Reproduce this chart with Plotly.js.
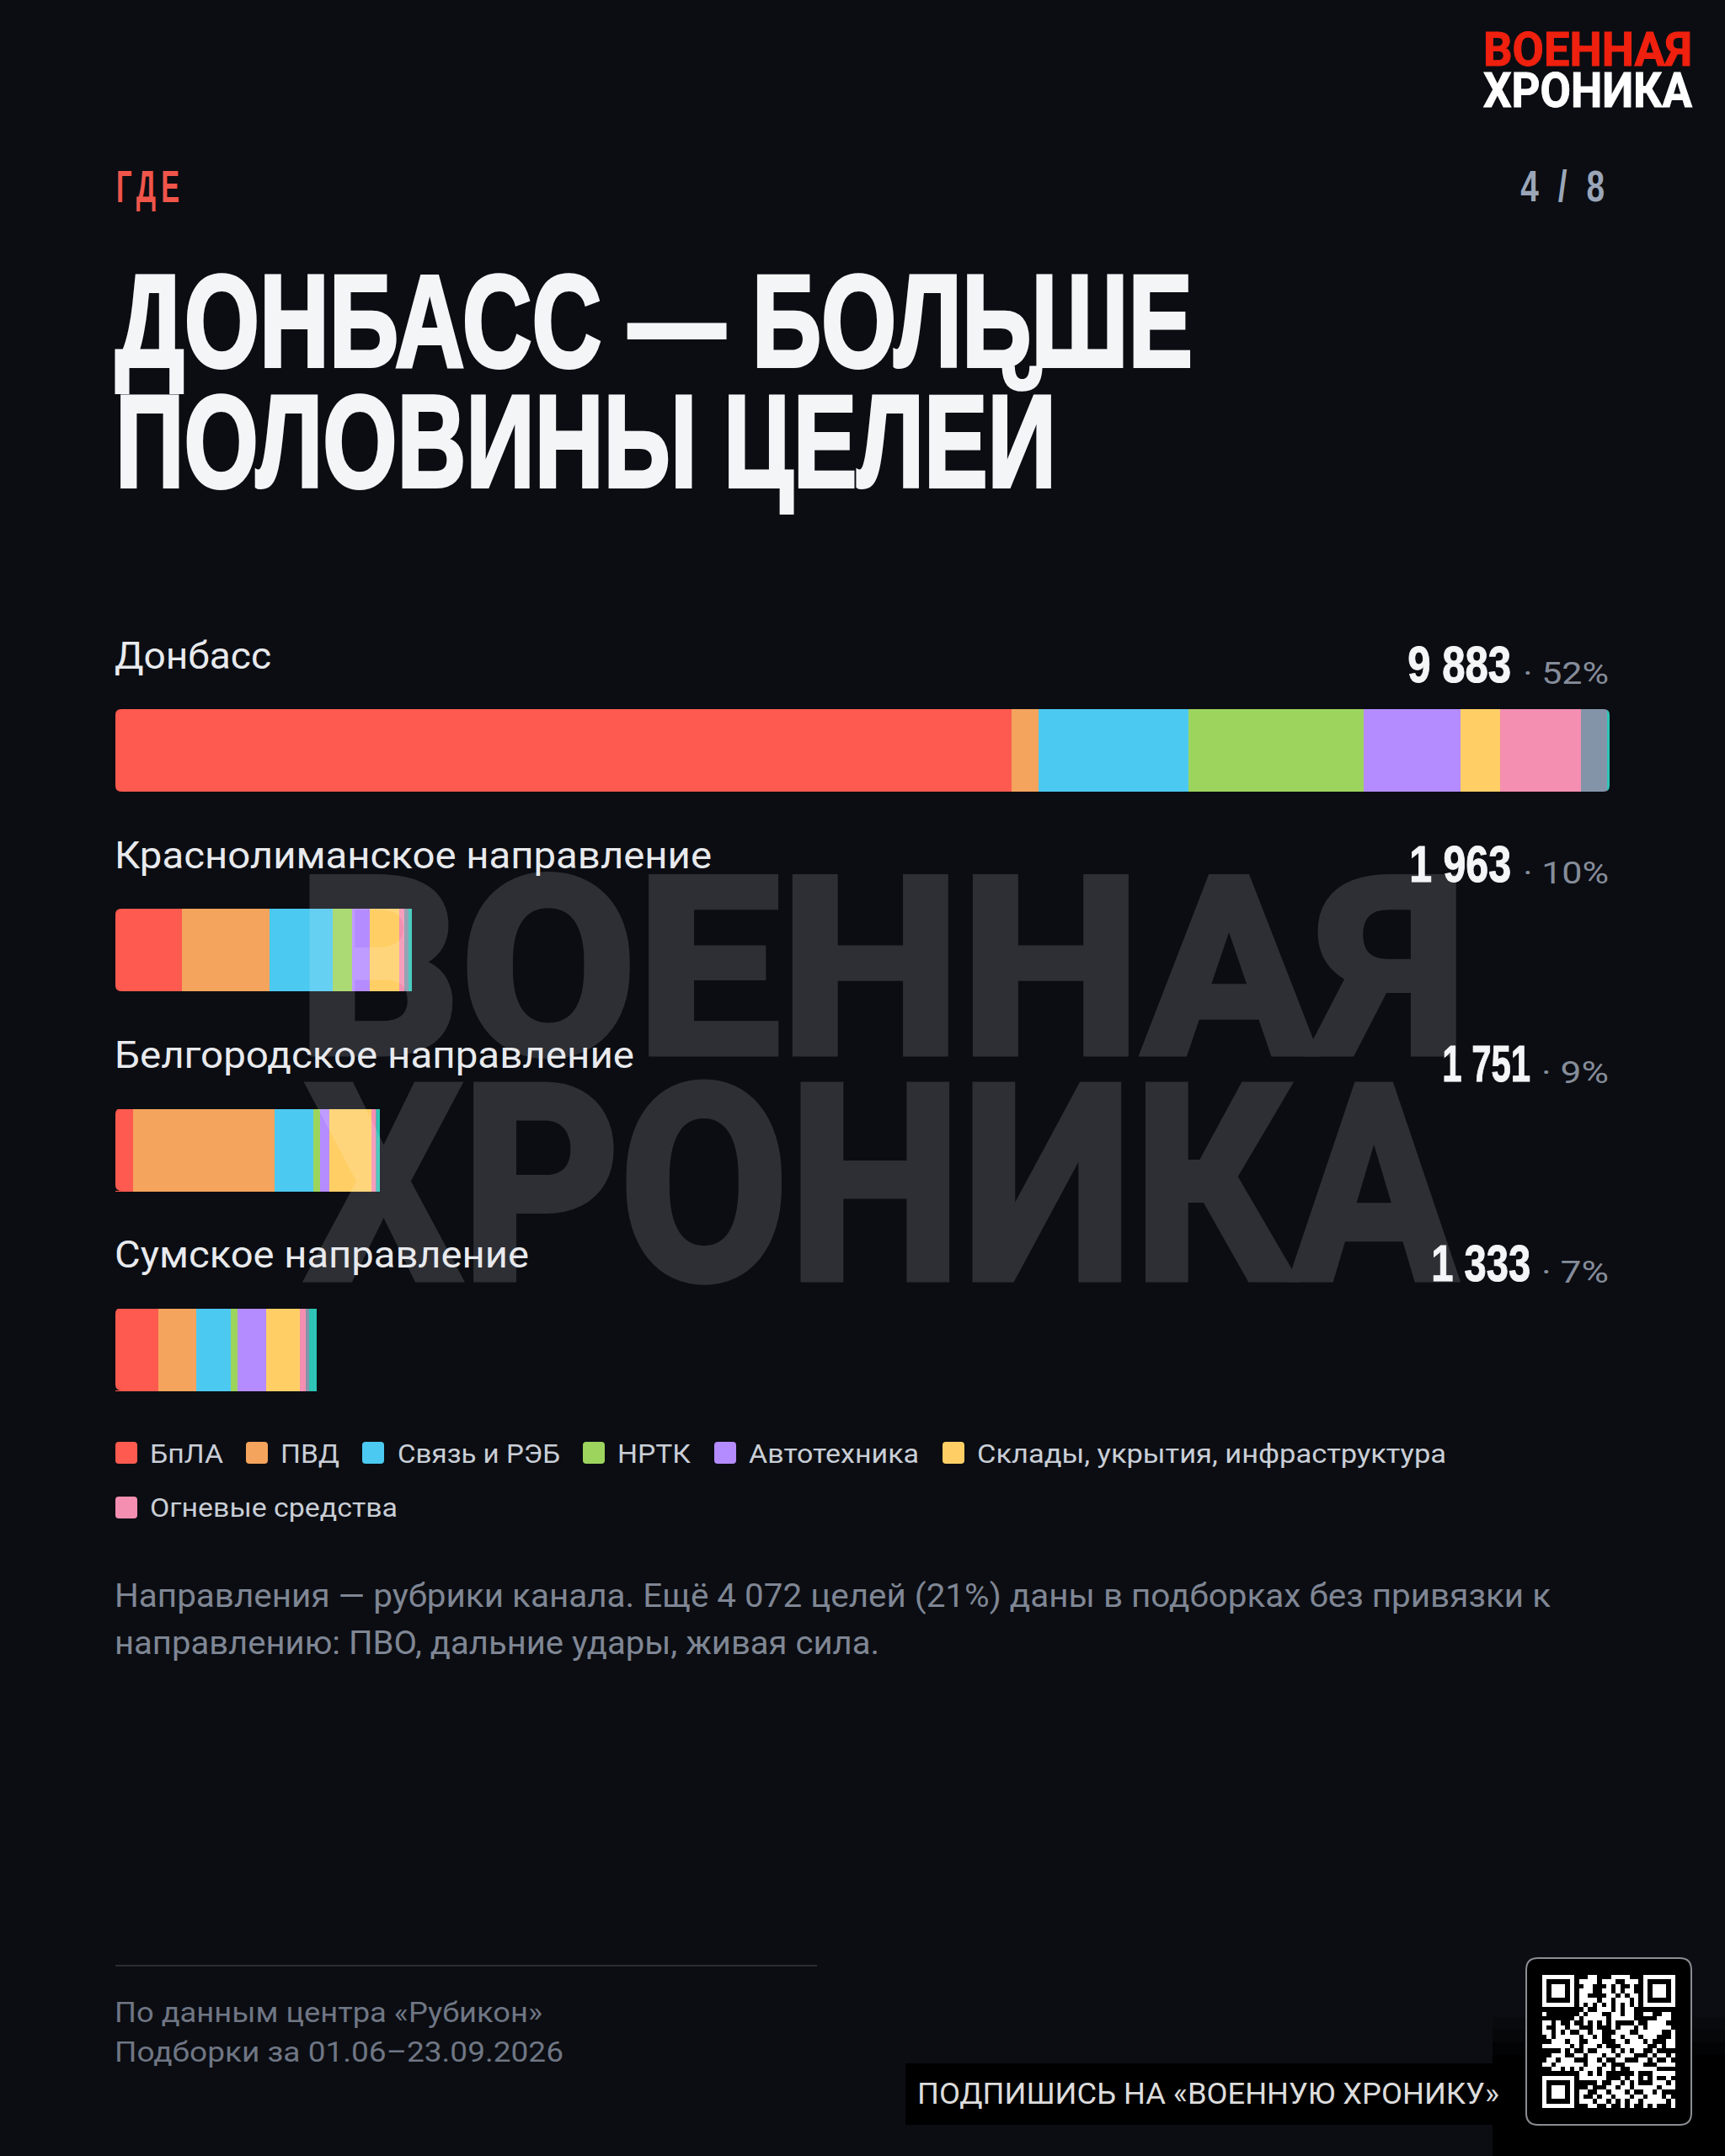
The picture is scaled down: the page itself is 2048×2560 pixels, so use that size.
<!DOCTYPE html>
<html>
<head>
<meta charset="utf-8">
<script src="https://cdn.plot.ly/plotly-3.0.1.min.js"></script>
<style>
  html, body { margin: 0; padding: 0; background: #0b0d12; }
  #chart { width: 2048px; height: 2560px; }
</style>
</head>
<body>
<div id="chart"></div>
<script>
// directions, top to bottom
const directions = ['Донбасс', 'Краснолиманское направление', 'Белгородское направление', 'Сумское направление'];
const totalLabels = ['9 883', '1 963', '1 751', '1 333'];
const shareLabels = ['52%', '10%', '9%', '7%'];

// segment values per direction
const bpla    = [5926, 442, 115, 286];
const pvd     = [179, 579, 940, 249];
const svyaz   = [994, 414, 255, 226];
const nrtk    = [1155, 128, 46, 46];
const avto    = [641, 117, 60, 188];
const sklady  = [266, 199, 275, 224];
const ogon    = [534, 33, 32, 42];
const grey    = [170, 25, 6, 19];
const teal    = [18, 26, 22, 53];

const seriesNames  = ['БпЛА', 'ПВД', 'Связь и РЭБ', 'НРТК', 'Автотехника', 'Склады, укрытия, инфраструктура', 'Огневые средства', 'Другое', 'Прочее'];
const seriesValues = [bpla, pvd, svyaz, nrtk, avto, sklady, ogon, grey, teal];
const seriesColors = ['#ff5a4f', '#f4a45c', '#4cc9f0', '#9dd45e', '#b58cff', '#ffcf66', '#f48fb1', '#8494a8', '#2ec4b6'];

// QR code
const qrRows = [
  '1111111 0 0011000111100 0 1111111',
  '1000001 0 1111011100111 0 1000001',
  '1011101 0 0110001010010 0 1011101',
  '1011101 0 1110011010110 0 1011101',
  '1011101 0 1100001101011 0 1011101',
  '1000001 0 1111011011101 0 1000001',
  '1111111 0 1010101010101 0 1111111',
  '0000000 0 0100111010110 0 0000000',
  '10000000 10111 00110 11001 10011 0',
  '0000000 10111 11011 11100 00011 10',
  '1101001 00101 01010 00010 01111 00',
  '1001101 10001 00010 11101 01111 10',
  '1101010 01101 10001 11001 11110 01',
  '0101111 10110 10011 01110 11100 01',
  '0011101 10011 10001 10111 01000 11',
  '1111110 10111 01000 11111 10010 11',
  '0000101 00100 11101 01011 00100 00',
  '0011100 11011 10110 11100 01011 01',
  '0110111 00011 01001 10001 10100 10',
  '1101111 11011 10100 01111 00011 11',
  '0011010 10111 01101 00111 11100 00',
  '0000000 01101 01000 00010 00111 11',
  '1111111 01111 11000 10110 10100 10',
  '1000001 00000 10011 01010 00111 01',
  '1011101 00010 00110 11011 11101 11',
  '1011101 01100 11011 10100 11010 00',
  '1011101 01001 01101 11011 01110 10',
  '1000001 01110 11010 10110 11111 01',
  '1111111 00011 00100 10100 10100 01'
];

const W = 2048, H = 2560;
const LEFT = 137, RIGHT = 1911, TEXT_LEFT = 135;
const px = x => x / W;
const py = y => 1 - y / H;

const NARROW = '"Liberation Sans Narrow", "Liberation Sans", sans-serif';
const BODY = 'Roboto, sans-serif';
const DESCENT = {[NARROW]: 0.212, [BODY]: 0.244};

const annotations = [];
const fits = [];

// places a text by its baseline; w squeezes it to the width seen in the picture
function label(text, x, base, size, color, family, opts) {
  const o = opts || {};
  const anchor = o.anchor || 'left';
  annotations.push({
    text: text, xref: 'paper', yref: 'paper', showarrow: false,
    x: px(x), y: py(base + DESCENT[family] * size + 1),
    xanchor: anchor, yanchor: 'bottom', align: anchor, borderpad: 0,
    opacity: o.opacity === undefined ? 1 : o.opacity,
    font: {family: family, size: size, color: color, weight: o.bold ? 700 : 400}
  });
  if (o.w) fits.push({i: annotations.length - 1, w: o.w, color: color, stroke: o.stroke, spacing: o.spacing});
}

// watermark first, it sits over the bars
label('ВОЕННАЯ', 352, 1250, 292, '#ffffff', BODY, {bold: true, w: 1388, stroke: 9, opacity: 0.14});
label('ХРОНИКА', 362, 1518, 322, '#ffffff', BODY, {bold: true, w: 1366, stroke: 9, opacity: 0.14});

// logo
label('ВОЕННАЯ', 1760, 78, 55, '#f0200f', BODY, {bold: true, w: 248, stroke: 1});
label('ХРОНИКА', 1760, 127, 58, '#ffffff', BODY, {bold: true, w: 248, stroke: 1});

// header
label('ГДЕ', 137, 240, 54, '#f0554a', NARROW, {bold: true, w: 81, spacing: 10});
label('4 / 8', 1912, 239, 51, '#9aa6b8', NARROW, {bold: true, w: 106, spacing: 8, anchor: 'right'});
label('ДОНБАСС — БОЛЬШЕ', 136, 435, 155, '#f4f5f7', NARROW, {bold: true, w: 1279, stroke: 4});
label('ПОЛОВИНЫ ЦЕЛЕЙ', 136, 578, 155, '#f4f5f7', NARROW, {bold: true, w: 1117, stroke: 4});

// direction rows
const labelWidths = [186, 709, 617, 492];
const valueRight = [1795, 1795, 1818, 1818];
const valueWidths = [123, 121, 105, 118];
const shareLeft = [1809, 1809, 1831, 1831];
directions.forEach((d, i) => {
  const base = 794 + 237 * i;
  label(d, TEXT_LEFT, base, 44, '#e8eaee', BODY, {w: labelWidths[i]});
  label(totalLabels[i], valueRight[i], base + 16, 62, '#f4f5f7', NARROW, {bold: true, anchor: 'right', w: valueWidths[i], stroke: 1});
  label('· ' + shareLabels[i], RIGHT, base + 18, 36, '#858c9a', BODY, {anchor: 'right', w: RIGHT - shareLeft[i]});
});

// legend, drawn by hand because its swatches are large and rounded
const legendSwatchX = [137, 292, 430, 692, 848, 1119, 137];
const legendTextX   = [177, 332, 471, 732, 888, 1159, 177];
const legendWidths  = [87, 70, 193, 87, 202, 557, 294];
const legendRow     = [0, 0, 0, 0, 0, 0, 1];
const shapes = [];

function rounded(x0, y0, x1, y1, r) {
  const X = v => px(v).toFixed(5), Y = v => py(v).toFixed(5);
  return `M${X(x0 + r)},${Y(y0)} L${X(x1 - r)},${Y(y0)} Q${X(x1)},${Y(y0)} ${X(x1)},${Y(y0 + r)} ` +
         `L${X(x1)},${Y(y1 - r)} Q${X(x1)},${Y(y1)} ${X(x1 - r)},${Y(y1)} L${X(x0 + r)},${Y(y1)} ` +
         `Q${X(x0)},${Y(y1)} ${X(x0)},${Y(y1 - r)} L${X(x0)},${Y(y0 + r)} Q${X(x0)},${Y(y0)} ${X(x0 + r)},${Y(y0)} Z`;
}

// black patches and frame under the QR code
function rect(x0, y0, x1, y1, fill) {
  shapes.push({type: 'rect', xref: 'paper', yref: 'paper', layer: 'below', line: {width: 0}, fillcolor: fill,
    x0: px(x0), x1: px(x1), y0: py(y0), y1: py(y1)});
}
rect(1772, 2395, W, 2410, 'rgba(0,0,0,0.2)');
rect(1772, 2410, W, 2425, 'rgba(0,0,0,0.45)');
rect(1772, 2425, W, 2440, 'rgba(0,0,0,0.75)');
rect(1772, 2440, W, H, '#000000');
rect(1075, 2450, 1772, 2523, '#000000');
shapes.push({type: 'path', xref: 'paper', yref: 'paper', layer: 'below', path: rounded(1812, 2325, 2008, 2523, 14),
  fillcolor: '#000000', line: {color: '#8a8d92', width: 2}});

// footer rule
shapes.push({type: 'line', xref: 'paper', yref: 'paper', x0: px(137), x1: px(970), y0: py(2334), y1: py(2334),
  line: {color: '#2a2d33', width: 2}});

legendSwatchX.forEach((x, i) => {
  const top = 1712 + 65 * legendRow[i];
  shapes.push({type: 'path', xref: 'paper', yref: 'paper', path: rounded(x, top, x + 26, top + 26, 4),
    fillcolor: seriesColors[i], line: {width: 0}});
  label(seriesNames[i], legendTextX[i], 1737 + 64 * legendRow[i], 32, '#c9ced6', BODY, {w: legendWidths[i]});
});

// round the outer corners of the bars by masking them with the page colour
const BAR_H = 98, CORNER = 7;
function maskCorner(cx, cy, dx, dy) {
  const X = v => px(v).toFixed(5), Y = v => py(v).toFixed(5);
  shapes.push({type: 'path', xref: 'paper', yref: 'paper', fillcolor: '#0b0d12', line: {width: 0},
    path: `M${X(cx)},${Y(cy)} L${X(cx + dx * CORNER)},${Y(cy)} Q${X(cx)},${Y(cy)} ${X(cx)},${Y(cy + dy * CORNER)} Z`});
}
directions.forEach((d, i) => {
  const mid = 891 + 237 * i;
  maskCorner(LEFT, mid - BAR_H / 2, 1, 1);
  maskCorner(LEFT, mid + BAR_H / 2, 1, -1);
  if (i === 0) {
    maskCorner(RIGHT, mid - BAR_H / 2, -1, 1);
    maskCorner(RIGHT, mid + BAR_H / 2, -1, -1);
  }
});

// note and footer
label('Направления — рубрики канала. Ещё 4 072 целей (21%) даны в подборках без привязки к', TEXT_LEFT, 1908, 38, '#7f8694', BODY, {w: 1705});
label('направлению: ПВО, дальние удары, живая сила.', TEXT_LEFT, 1964, 38, '#7f8694', BODY, {w: 908});
label('По данным центра «Рубикон»', TEXT_LEFT, 2401, 34, '#6f7684', BODY, {w: 508});
label('Подборки за 01.06–23.09.2026', TEXT_LEFT, 2448, 34, '#6f7684', BODY, {w: 533});
label('ПОДПИШИСЬ НА «ВОЕННУЮ ХРОНИКУ»', 1088, 2498, 35, '#dcdcdc', BODY, {w: 691});

const traces = seriesNames.map((name, i) => ({
  type: 'bar', orientation: 'h', name: name,
  y: directions, x: seriesValues[i],
  marker: {color: seriesColors[i], line: {width: 0}},
  hoverinfo: 'x+name'
}));

const qrZ = qrRows.map(r => r.replace(/ /g, '').split('').map(Number));
traces.push({
  type: 'heatmap', z: qrZ, xaxis: 'x2', yaxis: 'y2', zmin: 0, zmax: 1, showscale: false, hoverinfo: 'skip',
  colorscale: [[0, '#000000'], [1, '#ffffff']]
});

const layout = {
  width: W, height: H,
  margin: {l: 0, r: 0, t: 0, b: 0},
  paper_bgcolor: '#0b0d12', plot_bgcolor: 'rgba(0,0,0,0)',
  barmode: 'stack', bargap: 0.586,
  showlegend: false,
  xaxis: {domain: [px(LEFT), px(RIGHT)], range: [0, 9883], visible: false, fixedrange: true},
  yaxis: {domain: [py(1721.5), py(772.5)], type: 'category', categoryorder: 'array', categoryarray: directions,
    range: [3.5, -0.5], visible: false, fixedrange: true},
  xaxis2: {domain: [px(1831), px(1989)], anchor: 'y2', range: [-0.5, 28.5], visible: false, fixedrange: true},
  yaxis2: {domain: [py(2503), py(2345)], anchor: 'x2', range: [28.5, -0.5], visible: false, fixedrange: true},
  annotations: annotations,
  shapes: shapes
};

Plotly.newPlot('chart', traces, layout, {displayModeBar: false, staticPlot: true}).then(() => {
  fits.forEach(f => {
    const el = document.querySelector(`.annotation[data-index="${f.i}"] text.annotation-text`);
    if (!el) return;
    if (f.spacing) el.style.letterSpacing = f.spacing + 'px';
    if (f.stroke) {
      el.style.stroke = f.color;
      el.style.strokeWidth = f.stroke + 'px';
    }
    el.setAttribute('textLength', f.w);
    el.setAttribute('lengthAdjust', 'spacingAndGlyphs');
  });
});
</script>
</body>
</html>
